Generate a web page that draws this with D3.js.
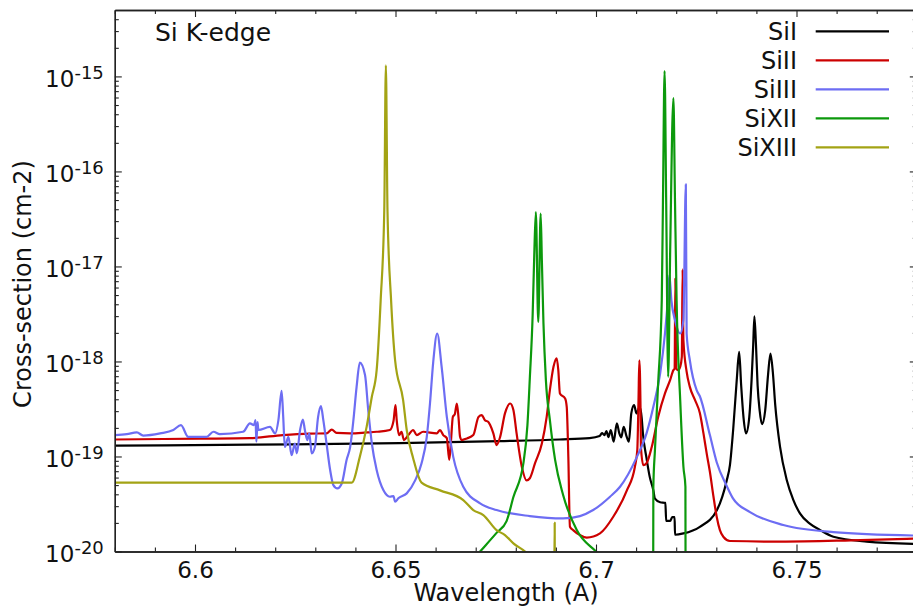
<!DOCTYPE html>
<html>
<head>
<meta charset="utf-8">
<script src="https://cdn.jsdelivr.net/npm/d3@7"></script>
<style>
  html, body { margin: 0; padding: 0; background: #fff; }
  svg { display: block; font-family: "DejaVu Sans", sans-serif; }
</style>
</head>
<body>
<svg id="chart" width="913" height="611"></svg>
<script>
// Photoabsorption cross-sections near the Si K-edge: [wavelength (A), cross-section (cm^2)]
// Values below the plotted floor (1e-22) mark where a table stops.
const siI = [
  [6.5800,1.30e-19],[6.6137,1.33e-19],[6.6510,1.38e-19],[6.6760,1.45e-19],[6.6909,1.51e-19],
  [6.6984,1.56e-19],[6.7009,1.64e-19],[6.7015,1.76e-19],[6.7021,1.68e-19],[6.7026,1.85e-19],
  [6.7031,1.60e-19],[6.7037,1.90e-19],[6.7044,1.43e-19],[6.7052,2.23e-19],[6.7058,1.76e-19],
  [6.7063,1.59e-19],[6.7069,2.05e-19],[6.7076,1.64e-19],[6.7082,1.43e-19],[6.7088,2.84e-19],
  [6.7095,3.47e-19],[6.7101,2.84e-19],[6.7109,3.33e-19],[6.7114,2.54e-19],[6.7117,1.75e-19],
  [6.7126,9.6e-20],[6.7134,6.1e-20],[6.7143,4.4e-20],[6.7147,3.6e-20],[6.7160,3.3e-20],
  [6.7173,3.25e-20],[6.7175,2.1e-20],[6.7185,2.1e-20],[6.7190,2.3e-20],[6.7196,2.3e-20],
  [6.7197,1.5e-20],[6.7218,1.55e-20],[6.7259,1.82e-20],[6.7301,2.7e-20],[6.7326,5.6e-20],
  [6.7334,8.1e-20],[6.7342,1.9e-19],[6.7351,6.4e-19],[6.7357,1.26e-18],[6.7362,5.6e-19],
  [6.7368,2.54e-19],[6.7374,1.75e-19],[6.7382,2.54e-19],[6.7388,6.4e-19],[6.7392,1.48e-18],
  [6.7395,2.99e-18],[6.7399,1.48e-18],[6.7403,5.6e-19],[6.7408,3.08e-19],[6.7414,2.19e-19],
  [6.7422,3.08e-19],[6.7429,7.2e-19],[6.7435,1.21e-18],[6.7441,7.7e-19],[6.7447,3.47e-19],
  [6.7459,1.26e-19],[6.7476,5.6e-20],[6.7492,3.5e-20],[6.7509,2.5e-20],[6.7534,1.95e-20],
  [6.7559,1.68e-20],[6.7592,1.43e-20],[6.7675,1.27e-20],[6.7800,1.2e-20]
];

const siII = [
  [6.5800,1.51e-19],[6.6012,1.54e-19],[6.6137,1.56e-19],[6.6219,1.68e-19],[6.6287,1.74e-19],
  [6.6328,1.75e-19],[6.6341,1.92e-19],[6.6353,1.77e-19],[6.6387,1.75e-19],[6.6428,1.79e-19],
  [6.6453,1.82e-19],[6.6486,1.90e-19],[6.6495,2.36e-19],[6.6500,3.47e-19],[6.6503,2.41e-19],
  [6.6509,1.68e-19],[6.6515,1.82e-19],[6.6521,1.49e-19],[6.6532,1.68e-19],[6.6544,1.90e-19],
  [6.6553,1.68e-19],[6.6569,1.82e-19],[6.6603,1.75e-19],[6.6611,1.90e-19],[6.6619,1.68e-19],
  [6.6628,1.56e-19],[6.6634,9.2e-20],[6.6638,1.38e-19],[6.6643,2.61e-19],[6.6648,2.79e-19],
  [6.6653,3.61e-19],[6.6657,2.61e-19],[6.6661,1.61e-19],[6.6665,1.49e-19],[6.6678,1.55e-19],
  [6.6694,1.68e-19],[6.6707,2.61e-19],[6.6715,2.72e-19],[6.6723,2.41e-19],[6.6731,2.32e-19],
  [6.6736,2.14e-19],[6.6744,1.75e-19],[6.6752,1.32e-19],[6.6761,1.61e-19],[6.6773,2.84e-19],
  [6.6786,3.61e-19],[6.6794,3.08e-19],[6.6802,1.75e-19],[6.6815,7.8e-20],[6.6827,5.6e-20],
  [6.6835,5.9e-20],[6.6848,8.5e-20],[6.6865,1.37e-19],[6.6877,2.61e-19],[6.6885,4.99e-19],
  [6.6894,8.8e-19],[6.6902,1.08e-18],[6.6906,8.1e-19],[6.6910,4.61e-19],[6.6923,4.08e-19],
  [6.6927,3.33e-19],[6.6931,9.9e-20],[6.6935,1.82e-20],[6.6943,1.68e-20],[6.6960,1.49e-20],
  [6.6977,1.40e-20],[6.7010,1.55e-20],[6.7043,2.32e-20],[6.7077,4.4e-20],[6.7097,7.8e-20],
  [6.7103,1.17e-19],[6.7106,3.92e-19],[6.7108,1.03e-18],[6.7111,3.33e-19],[6.7112,1.26e-19],
  [6.7118,8.1e-20],[6.7126,8.5e-20],[6.7139,1.26e-19],[6.7155,2.61e-19],[6.7172,4.61e-19],
  [6.7185,6.4e-19],[6.7193,8.1e-19],[6.7196,8.4e-19],[6.7198,7.5e-18],[6.7200,8.4e-19],
  [6.7205,8.1e-19],[6.7210,8.8e-19],[6.7214,1.12e-18],[6.7216,9.3e-18],[6.7218,1.67e-18],
  [6.7226,7.8e-19],[6.7234,5.4e-19],[6.7247,3.92e-19],[6.7259,2.86e-19],[6.7268,1.75e-19],
  [6.7276,1.08e-19],[6.7284,6.9e-20],[6.7293,3.77e-20],[6.7301,2.32e-20],[6.7309,1.68e-20],
  [6.7318,1.42e-20],[6.7334,1.29e-20],[6.7461,1.27e-20],[6.7636,1.31e-20],[6.7800,1.37e-20]
];

const siIII = [
  [6.5800,1.68e-19],[6.5830,1.72e-19],[6.5855,1.79e-19],[6.5871,1.66e-19],[6.5913,1.75e-19],
  [6.5946,1.90e-19],[6.5965,2.14e-19],[6.5983,1.61e-19],[6.6029,1.61e-19],[6.6046,1.82e-19],
  [6.6062,1.72e-19],[6.6120,1.82e-19],[6.6137,2.23e-19],[6.6147,2.14e-19],[6.6151,2.41e-19],
  [6.6153,1.43e-19],[6.6156,2.30e-19],[6.6158,1.90e-19],[6.6187,2.05e-19],[6.6200,1.75e-19],
  [6.6208,2.41e-19],[6.6216,4.91e-19],[6.6220,2.61e-19],[6.6224,1.26e-19],[6.6233,1.61e-19],
  [6.6241,1.03e-19],[6.6249,1.37e-19],[6.6254,1.08e-19],[6.6262,1.90e-19],[6.6269,2.45e-19],
  [6.6274,1.90e-19],[6.6280,1.49e-19],[6.6285,1.75e-19],[6.6291,1.08e-19],[6.6299,1.26e-19],
  [6.6307,2.61e-19],[6.6314,3.39e-19],[6.6320,2.41e-19],[6.6328,1.37e-19],[6.6337,7.2e-20],
  [6.6345,5.0e-20],[6.6355,4.62e-20],[6.6366,5.2e-20],[6.6378,9.2e-20],[6.6387,1.26e-19],
  [6.6395,2.41e-19],[6.6403,5.4e-19],[6.6411,9.7e-19],[6.6424,7.2e-19],[6.6432,3.08e-19],
  [6.6441,1.37e-19],[6.6453,7.2e-20],[6.6470,4.4e-20],[6.6486,3.77e-20],[6.6495,3.83e-20],
  [6.6499,3.34e-20],[6.6507,3.63e-20],[6.6528,4.09e-20],[6.6549,5.6e-20],[6.6565,8.5e-20],
  [6.6578,1.61e-19],[6.6586,3.61e-19],[6.6594,9.8e-19],[6.6604,1.97e-18],[6.6615,8.8e-19],
  [6.6628,2.61e-19],[6.6644,9.9e-20],[6.6669,4.8e-20],[6.6711,3.21e-20],[6.6752,2.73e-20],
  [6.6835,2.36e-20],[6.6918,2.23e-20],[6.6960,2.36e-20],[6.6993,2.73e-20],[6.7035,3.77e-20],
  [6.7060,4.8e-20],[6.7102,9.9e-20],[6.7126,1.75e-19],[6.7143,3.33e-19],[6.7160,7.5e-19],
  [6.7172,1.97e-18],[6.7179,4.4e-18],[6.7183,8.1e-18],[6.7188,4.4e-18],[6.7197,2.72e-18],
  [6.7210,1.97e-18],[6.7218,2.72e-18],[6.7224,7.3e-17],[6.7226,1.97e-18],[6.7234,1.03e-18],
  [6.7251,4.99e-19],[6.7259,4.3e-19],[6.7284,1.68e-19],[6.7301,8.7e-20],[6.7326,4.9e-20],
  [6.7342,3.6e-20],[6.7384,2.6e-20],[6.7467,1.9e-20],[6.7592,1.6e-20],[6.7800,1.47e-20]
];

const siXII = [
  [6.6686,7.6e-21],[6.6711,1.0e-20],[6.6752,1.57e-20],[6.6777,2.09e-20],[6.6794,3.74e-20],
  [6.6819,8.5e-20],[6.6829,2.14e-19],[6.6835,6.7e-19],[6.6842,3.07e-18],[6.6846,1.31e-17],
  [6.6850,3.74e-17],[6.6856,2.61e-18],[6.6862,3.6e-17],[6.6865,1.16e-17],[6.6869,2.51e-18],
  [6.6875,6.4e-19],[6.6885,2.41e-19],[6.6898,9.2e-20],[6.6918,3.93e-20],[6.6952,1.68e-20],
  [6.7000,1.0e-20],[6.7022,8.1e-21],
  [6.7142,1e-22],[6.7143,4.8e-20],[6.7147,1.17e-19],[6.7155,5.9e-19],[6.7164,4.4e-18],
  [6.7167,4.9e-17],[6.7171,1.14e-15],[6.7175,4.9e-17],[6.7180,6.9e-19],[6.7185,1.48e-17],
  [6.7193,5.9e-16],[6.7197,4.9e-17],[6.7201,4.4e-18],[6.7210,3.92e-19],[6.7218,7.8e-20],
  [6.7223,4.8e-20],[6.7224,1e-22]
];

const siXIII = [
  [6.5800,5.3e-20],[6.6391,5.3e-20],[6.6411,9.9e-20],[6.6428,2.05e-19],[6.6441,4.25e-19],
  [6.6453,8.1e-19],[6.6463,4.4e-18],[6.6472,3.9e-17],[6.6476,1.31e-15],[6.6480,3.9e-17],
  [6.6489,4.4e-18],[6.6499,1.03e-18],[6.6519,3.92e-19],[6.6528,1.90e-19],[6.6544,9.6e-20],
  [6.6565,5.3e-20],[6.6611,4.4e-20],[6.6669,3.48e-20],[6.6694,2.73e-20],[6.6719,2.42e-20],
  [6.6752,1.68e-20],[6.6773,1.49e-20],[6.6794,1.22e-20],[6.6823,1.0e-20],[6.6848,7.8e-21],
  [6.6895,1e-22],[6.6896,2.0e-20],[6.6897,2.0e-20],[6.6898,1e-22]
];

const seriesNames = ["SiI", "SiII", "SiIII", "SiXII", "SiXIII"];
const seriesData = [siI, siII, siIII, siXII, siXIII];
const seriesColors = ["#000000", "#cc0000", "#6d6df3", "#0c990c", "#a3a314"];

const xTicks = [6.6, 6.65, 6.7, 6.75];
const xTickLabels = ["6.6", "6.65", "6.7", "6.75"];
const yTickExponents = [-20, -19, -18, -17, -16, -15];

// ---- layout ----
const plot = { left: 114.8, right: 916.8, top: 10, bottom: 551.5 };
const svg = d3.select("#chart");

const x = d3.scaleLinear().domain([6.58, 6.78]).range([plot.left, plot.right]);
const y = d3.scaleLog().domain([1e-20, 5e-15]).range([plot.bottom, plot.top]);

const yMajor = yTickExponents.map(e => Math.pow(10, e));
const yMinor = [];
yTickExponents.forEach(e => {
  for (let m = 2; m <= 9; m++) {
    const v = m * Math.pow(10, e);
    if (v <= 5e-15) yMinor.push(v);
  }
});
const xMinor = d3.range(658, 679).map(v => v / 100).filter(v => !xTicks.some(t => Math.abs(t - v) < 1e-9));

// ---- curves ----
svg.append("defs").append("clipPath").attr("id", "plotClip")
  .append("rect")
  .attr("x", plot.left).attr("y", plot.top)
  .attr("width", plot.right - plot.left).attr("height", plot.bottom - plot.top);

const line = d3.line()
  .x(d => x(d[0]))
  .y(d => y(Math.max(d[1], 1e-23)))
  .curve(d3.curveMonotoneX);

const curves = svg.append("g").attr("clip-path", "url(#plotClip)");
seriesData.forEach((data, i) => {
  curves.append("path")
    .datum(data)
    .attr("fill", "none")
    .attr("stroke", seriesColors[i])
    .attr("stroke-width", 2.2)
    .attr("stroke-linejoin", "round")
    .attr("d", line);
});

// ---- axes ----
const axisColor = "#222";
function styleAxis(g) {
  g.attr("font-family", "DejaVu Sans, sans-serif");
  g.selectAll("path.domain").attr("stroke", axisColor).attr("stroke-width", 1.4);
  g.selectAll(".tick line").attr("stroke", axisColor).attr("stroke-width", 1.1);
}

// minor ticks
svg.append("g").attr("transform", `translate(0,${plot.bottom})`)
  .call(d3.axisBottom(x).tickValues(xMinor).tickSizeInner(-4).tickSizeOuter(0).tickFormat(""))
  .call(styleAxis);
svg.append("g").attr("transform", `translate(0,${plot.top})`)
  .call(d3.axisTop(x).tickValues(xMinor).tickSizeInner(-4).tickSizeOuter(0).tickFormat(""))
  .call(styleAxis);
svg.append("g").attr("transform", `translate(${plot.left},0)`)
  .call(d3.axisLeft(y).tickValues(yMinor).tickSizeInner(-4).tickSizeOuter(0).tickFormat(""))
  .call(styleAxis);
svg.append("g").attr("transform", `translate(${plot.right},0)`)
  .call(d3.axisRight(y).tickValues(yMinor).tickSizeInner(-4).tickSizeOuter(0).tickFormat(""))
  .call(styleAxis);

// major ticks
const xAxis = svg.append("g").attr("transform", `translate(0,${plot.bottom})`)
  .call(d3.axisBottom(x).tickValues(xTicks).tickSizeInner(-7).tickSizeOuter(0)
    .tickPadding(10).tickFormat((d, i) => xTickLabels[i]))
  .call(styleAxis);
xAxis.selectAll(".tick text").attr("font-size", 23).attr("fill", "#111");

svg.append("g").attr("transform", `translate(0,${plot.top})`)
  .call(d3.axisTop(x).tickValues(xTicks).tickSizeInner(-7).tickSizeOuter(0).tickFormat(""))
  .call(styleAxis);

const yAxis = svg.append("g").attr("transform", `translate(${plot.left},0)`)
  .call(d3.axisLeft(y).tickValues(yMajor).tickSizeInner(-7).tickSizeOuter(0).tickPadding(11))
  .call(styleAxis);
yAxis.selectAll(".tick text").each(function (d, i) {
  const t = d3.select(this).attr("dy", null).attr("fill", "#111").text(null);
  t.append("tspan").attr("dy", 10).attr("font-size", 23).text("10");
  t.append("tspan").attr("dy", -8).attr("font-size", 18).text(String(yTickExponents[i]));
});

svg.append("g").attr("transform", `translate(${plot.right},0)`)
  .call(d3.axisRight(y).tickValues(yMajor).tickSizeInner(-7).tickSizeOuter(0).tickFormat(""))
  .call(styleAxis);

// ---- titles ----
svg.append("text")
  .attr("x", 506).attr("y", 601)
  .attr("text-anchor", "middle").attr("font-size", 24).attr("fill", "#111")
  .text("Wavelength (A)");

svg.append("text")
  .attr("transform", "translate(31,284) rotate(-90)")
  .attr("text-anchor", "middle").attr("font-size", 24).attr("fill", "#111")
  .text("Cross-section (cm-2)");

svg.append("text")
  .attr("x", 155).attr("y", 41)
  .attr("font-size", 25).attr("fill", "#111")
  .text("Si K-edge");

// ---- legend ----
const legend = svg.append("g");
seriesNames.forEach((name, i) => {
  const yy = 31.3 + 29 * i;
  legend.append("text")
    .attr("x", 797).attr("y", yy + 9)
    .attr("text-anchor", "end").attr("font-size", 24).attr("fill", "#111")
    .text(name);
  legend.append("line")
    .attr("x1", 815.7).attr("x2", 889).attr("y1", yy).attr("y2", yy)
    .attr("stroke", seriesColors[i]).attr("stroke-width", 2.2);
});
</script>
</body>
</html>
